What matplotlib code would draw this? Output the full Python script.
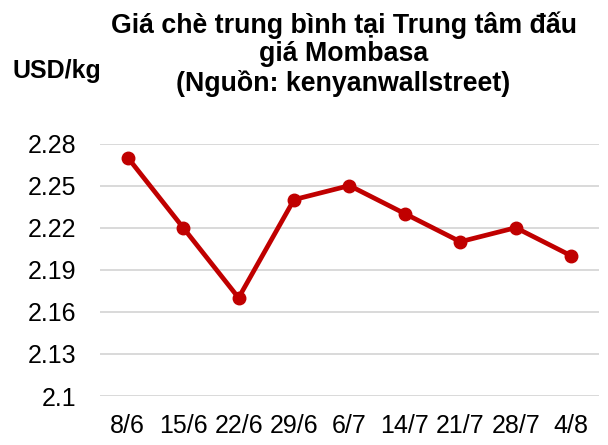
import matplotlib
matplotlib.use("Agg")
import matplotlib.pyplot as plt

# Dữ liệu giá chè
dates = ["8/6", "15/6", "22/6", "29/6", "6/7", "14/7", "21/7", "28/7", "4/8"]
prices = [2.27, 2.22, 2.17, 2.24, 2.25, 2.23, 2.21, 2.22, 2.20]
yticks = [2.1, 2.13, 2.16, 2.19, 2.22, 2.25, 2.28]
ytick_labels = ["2.1", "2.13", "2.16", "2.19", "2.22", "2.25", "2.28"]

plt.rcParams["font.family"] = ["Liberation Sans", "DejaVu Sans"]

fig = plt.figure(figsize=(6.08, 4.45), dpi=100)
ax = fig.add_axes([0.1645, 0.110, 0.8205, 0.5675])

x = list(range(len(dates)))
ax.plot(x, prices, color="#C00000", linewidth=3.4, marker="o", markersize=9,
        solid_joinstyle="round", zorder=3)

ax.set_xlim(-0.5, len(dates) - 0.5)
ax.set_ylim(2.1, 2.28)
ax.set_xticks(x)
ax.set_xticklabels(dates, fontsize=18)
ax.set_yticks(yticks)
ax.set_yticklabels(ytick_labels, fontsize=18)
ax.tick_params(axis="both", length=0)
ax.tick_params(axis="y", pad=17)
ax.tick_params(axis="x", pad=13)

ax.grid(axis="y", color="#D9D9D9", linewidth=1.4)
ax.set_axisbelow(True)
for s in ax.spines.values():
    s.set_visible(False)

fig.text(0.565, 0.975, "Giá chè trung bình tại Trung tâm đấu\ngiá Mombasa\n(Nguồn: kenyanwallstreet)",
         ha="center", va="top", fontsize=19.3, fontweight="bold", linespacing=1.12)
fig.text(0.021, 0.840, "USD/kg", ha="left", va="center", fontsize=18, fontweight="bold")

fig.savefig("out.png", dpi=100)
